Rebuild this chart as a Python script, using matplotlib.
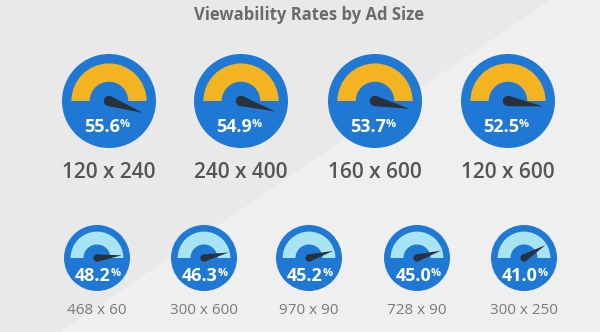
import matplotlib.pyplot as plt
from matplotlib.patches import Circle, Wedge, Polygon
import numpy as np

plt.rcParams['font.family'] = ['Open Sans', 'DejaVu Sans']

# data
top_sizes = ["120 x 240", "240 x 400", "160 x 600", "120 x 600"]
top_rates = [55.6, 54.9, 53.7, 52.5]
bottom_sizes = ["468 x 60", "300 x 600", "970 x 90", "728 x 90", "300 x 250"]
bottom_rates = [48.2, 46.3, 45.2, 45.0, 41.0]

W, H = 600, 332
BLUE = "#1f78d3"
NEEDLE = "#28323c"

fig = plt.figure(figsize=(6, 3.32), dpi=100)
fig.patch.set_facecolor("#e9e9e9")
ax = fig.add_axes([0, 0, 1, 1])
ax.set_xlim(0, W)
ax.set_ylim(0, H)
ax.set_aspect("equal")
ax.axis("off")

# lighter diagonal area in the background
ax.add_patch(Polygon([(60, 0), (550, H), (W, H), (W, 0)], closed=True,
                     facecolor="#efefef", edgecolor="none", zorder=0))


def needle_angle(v):
    return np.radians(31 - (v - 41) * 3.45)


def gauge(cx, cy, r, value, arc_color, label, label_dy, label_size, label_color, label_weight, num_dx, num_dy):
    ax.add_patch(Circle((cx, cy), r, facecolor=BLUE, edgecolor="none", zorder=2))
    ax.add_patch(Wedge((cx, cy), 0.80 * r, 0, 180,
                       facecolor=arc_color, edgecolor="none", zorder=3))
    ax.add_patch(Circle((cx, cy), 0.41 * r, facecolor=BLUE, edgecolor="none", zorder=3))
    a = needle_angle(value)
    L = 0.76 * r
    w = 0.11 * r
    tip = (cx + L * np.cos(a), cy + L * np.sin(a))
    p1 = (cx - w * np.sin(a), cy + w * np.cos(a))
    p2 = (cx + w * np.sin(a), cy - w * np.cos(a))
    ax.add_patch(Polygon([p1, tip, p2], closed=True, facecolor=NEEDLE, edgecolor="none", zorder=4))
    ax.add_patch(Circle((cx, cy), w, facecolor=NEEDLE, edgecolor="none", zorder=4))
    ax.text(cx + num_dx, cy - num_dy, f"{value:.1f}", ha="right", va="baseline",
            fontsize=13, fontweight="bold", color="white", zorder=5)
    ax.text(cx + num_dx - 0.5, cy - num_dy + 5, "%", ha="left", va="baseline",
            fontsize=8, fontweight="bold", color="white", zorder=5)
    ax.text(cx, cy - label_dy, label, ha="center", va="center",
            fontsize=label_size, color=label_color, fontweight=label_weight, zorder=5)


top_x = [109, 241, 375, 508]
for x, v, s in zip(top_x, top_rates, top_sizes):
    gauge(x, H - 101, 47, v, "#f4b320", s, 71, 15, "#555555", "semibold", 11, 31)

bottom_x = [97, 204, 309, 417, 524]
for x, v, s in zip(bottom_x, bottom_rates, bottom_sizes):
    gauge(x, H - 258, 33, v, "#a8e4f4", s, 53, 11, "#7a7a7a", "normal", 14, 23)

ax.text(309, H - 15, "Viewability Rates by Ad Size", ha="center", va="center",
        fontsize=12, fontweight="bold", color="#6b6b6b")

fig.savefig("out.png", dpi=100, facecolor=fig.get_facecolor())
